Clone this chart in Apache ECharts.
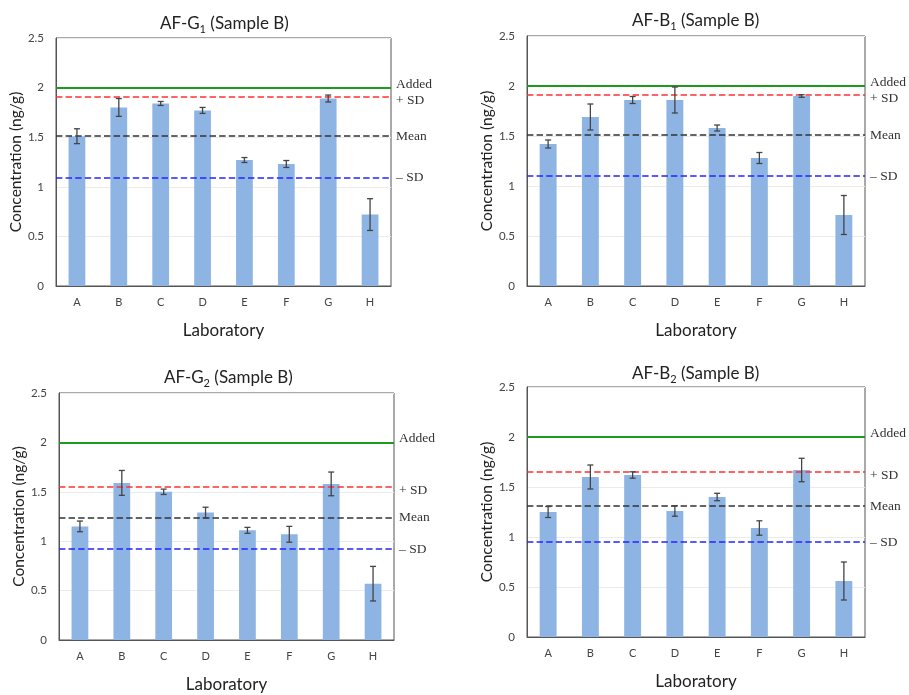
<!DOCTYPE html>
<html>
<head>
<meta charset="utf-8">
<script src="https://cdn.jsdelivr.net/npm/echarts@6/dist/echarts.min.js"></script>
<style>
  html, body { margin: 0; padding: 0; background: #fff; }
  #main { width: 909px; height: 695px; }
</style>
</head>
<body>
<div id="main"></div>
<script>
var labs = ['A', 'B', 'C', 'D', 'E', 'F', 'G', 'H'];
var yTicks = [0, 0.5, 1, 1.5, 2, 2.5];
var refNames = ['Added', '+ SD', 'Mean', '\u2013 SD'];

// AF-G1
var g1Vals = [1.51, 1.80, 1.84, 1.77, 1.27, 1.23, 1.89, 0.72];
var g1Err = [0.075, 0.09, 0.02, 0.03, 0.025, 0.035, 0.035, 0.16];
var g1Ref = [2.0, 1.91, 1.51, 1.09];
// AF-B1
var b1Vals = [1.42, 1.69, 1.86, 1.86, 1.58, 1.28, 1.90, 0.71];
var b1Err = [0.04, 0.13, 0.035, 0.13, 0.03, 0.055, 0.013, 0.195];
var b1Ref = [2.0, 1.91, 1.51, 1.10];
// AF-G2
var g2Vals = [1.15, 1.59, 1.50, 1.29, 1.11, 1.07, 1.58, 0.57];
var g2Err = [0.054, 0.126, 0.027, 0.054, 0.03, 0.08, 0.12, 0.175];
var g2Ref = [2.0, 1.55, 1.24, 0.92];
// AF-B2
var b2Vals = [1.25, 1.60, 1.62, 1.26, 1.40, 1.09, 1.67, 0.56];
var b2Err = [0.055, 0.12, 0.032, 0.052, 0.037, 0.072, 0.117, 0.19];
var b2Ref = [2.0, 1.65, 1.31, 0.95];

var panels = [
  { name: 'G', sub: '1', vals: g1Vals, err: g1Err, ref: g1Ref,
    grid: { left: 56, right: 518, top: 38, bottom: 409 }, title: { left: 155, top: 8 } },
  { name: 'B', sub: '1', vals: b1Vals, err: b1Err, ref: b1Ref,
    grid: { left: 527, right: 44, top: 36, bottom: 409 }, title: { left: 627, top: 5 } },
  { name: 'G', sub: '2', vals: g2Vals, err: g2Err, ref: g2Ref,
    grid: { left: 59, right: 515, top: 393, bottom: 55 }, title: { left: 159, top: 362 } },
  { name: 'B', sub: '2', vals: b2Vals, err: b2Err, ref: b2Ref,
    grid: { left: 527, right: 44, top: 387, bottom: 58 }, title: { left: 627, top: 358 } }
];

var refColors = ['#1e9a1e', '#ff3030', '#333333', '#2525ff'];
var refTypes = ['solid', 'dashed', 'dashed', 'dashed'];
// nudge the two top labels apart so they do not overlap
var refFmt = [
  function (t) { return '{a|' + t + '}\n{g|}'; },
  function (t) { return '{g|}\n{a|' + t + '}'; },
  function (t) { return '{a|' + t + '}'; },
  function (t) { return '{a|' + t + '}'; }
];

var option = {
  animation: false,
  backgroundColor: '#fff',
  title: [],
  grid: [],
  xAxis: [],
  yAxis: [],
  series: []
};

panels.forEach(function (p, i) {
  option.title.push({
    text: '{n|AF-' + p.name + '}{s|' + p.sub + '}{n| (Sample B)}',
    left: p.title.left,
    top: p.title.top,
    textStyle: {
      fontWeight: 'normal',
      rich: {
        n: { fontFamily: 'Lato', fontSize: 17, fontWeight: 'normal', color: '#222', lineHeight: 22 },
        s: { fontFamily: 'Lato', fontSize: 11, fontWeight: 'normal', color: '#222', lineHeight: 22, verticalAlign: 'bottom' }
      }
    }
  });
  option.grid.push({
    left: p.grid.left, right: p.grid.right, top: p.grid.top, bottom: p.grid.bottom,
    show: true, borderColor: '#555', borderWidth: 1
  });
  option.xAxis.push({
    type: 'category',
    gridIndex: i,
    data: labs,
    name: 'Laboratory',
    nameLocation: 'middle',
    nameGap: 36,
    nameTextStyle: { fontFamily: 'Lato', fontSize: 17, color: '#222' },
    axisLine: { lineStyle: { color: '#555' } },
    axisTick: { show: false },
    axisLabel: { fontFamily: 'Lato', fontSize: 11, color: '#444', margin: 11 }
  });
  option.yAxis.push({
    type: 'value',
    gridIndex: i,
    min: 0, max: 2.5, interval: 0.5,
    name: 'Concentration (ng/g)',
    nameLocation: 'middle',
    nameGap: 28,
    nameTextStyle: { fontFamily: 'Lato', fontSize: 15.5, color: '#222' },
    axisLine: { show: true, lineStyle: { color: '#555' } },
    axisTick: { show: false },
    splitLine: { lineStyle: { color: '#ebebeb' } },
    axisLabel: { fontFamily: 'Lato', fontSize: 11.5, color: '#444', margin: 12 }
  });
  option.series.push({
    type: 'bar',
    xAxisIndex: i, yAxisIndex: i,
    data: p.vals,
    barWidth: '40%',
    itemStyle: { color: '#8db4e2' },
    markLine: {
      silent: true,
      symbol: 'none',
      data: p.ref.map(function (v, k) {
        return {
          yAxis: v,
          lineStyle: { color: refColors[k], type: refTypes[k], width: k === 0 ? 2 : 1.6 },
          label: {
            show: true, position: 'end', distance: 5,
            formatter: refFmt[k](refNames[k]),
            rich: {
              a: { fontFamily: 'Liberation Serif', fontSize: 13.5, color: '#333', lineHeight: 14 },
              g: { fontSize: 1, lineHeight: 7 }
            }
          }
        };
      })
    }
  });
  option.series.push({
    type: 'custom',
    xAxisIndex: i, yAxisIndex: i,
    data: p.vals.map(function (v, k) { return [k, v - p.err[k], v + p.err[k]]; }),
    renderItem: function (params, api) {
      var lo = api.coord([api.value(0), api.value(1)]);
      var hi = api.coord([api.value(0), api.value(2)]);
      var w = 3;
      var st = { stroke: '#444', lineWidth: 1.3 };
      return {
        type: 'group',
        children: [
          { type: 'line', shape: { x1: lo[0], y1: lo[1], x2: hi[0], y2: hi[1] }, style: st },
          { type: 'line', shape: { x1: lo[0] - w, y1: lo[1], x2: lo[0] + w, y2: lo[1] }, style: st },
          { type: 'line', shape: { x1: hi[0] - w, y1: hi[1], x2: hi[0] + w, y2: hi[1] }, style: st }
        ]
      };
    },
    z: 10
  });
});

var myChart = echarts.init(document.getElementById('main'), null, { renderer: 'canvas' });
myChart.setOption(option);
window.addEventListener('resize', myChart.resize);
</script>
</body>
</html>
